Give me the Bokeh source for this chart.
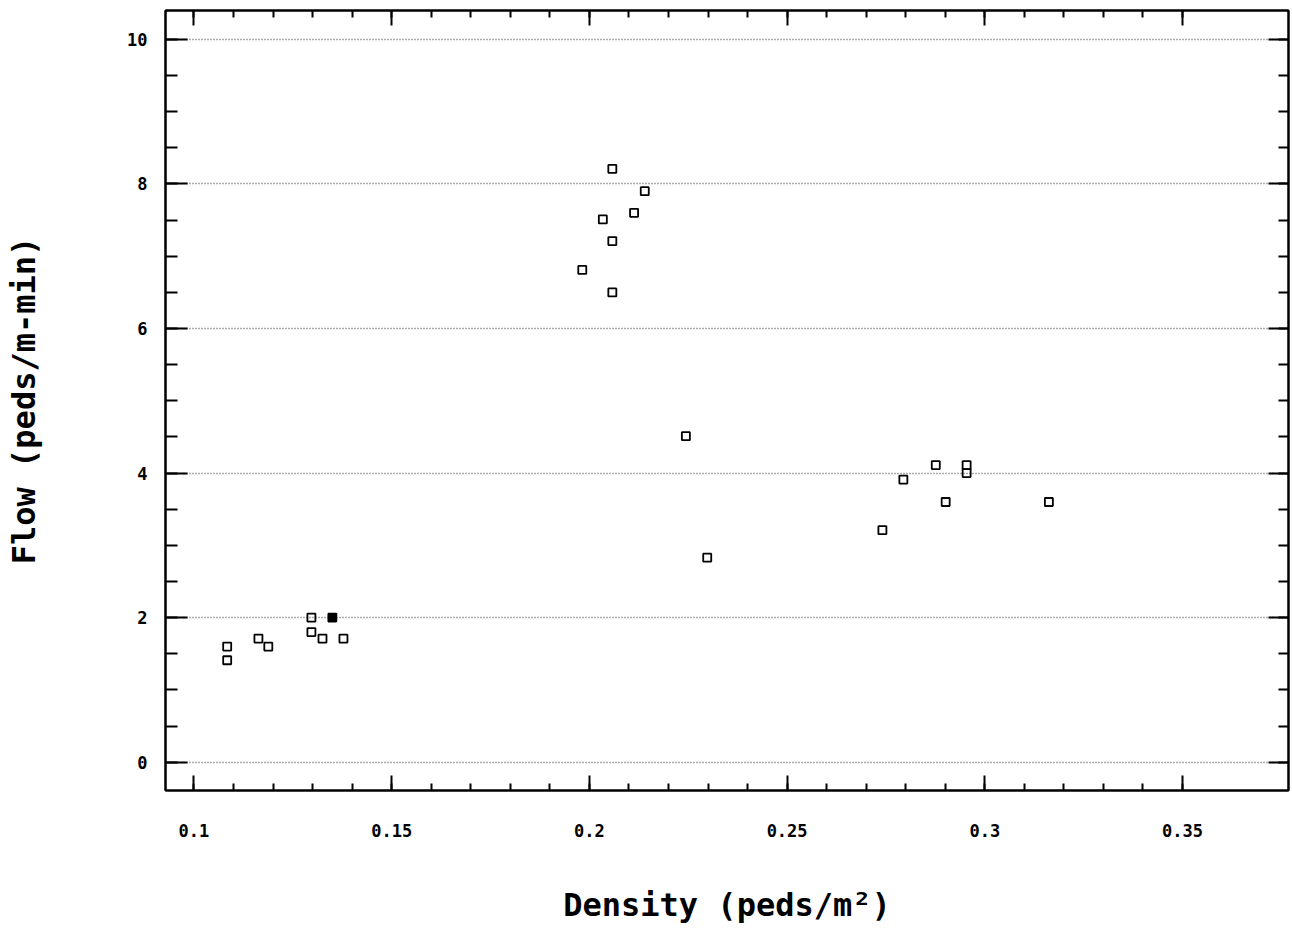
from bokeh.plotting import figure
from bokeh.models import LinearAxis, FixedTicker, Range1d
from bokeh.embed import file_html
from bokeh.resources import INLINE

# ---- data ----
density = [0.1084, 0.1084, 0.1163, 0.1188, 0.1297, 0.1297, 0.1325, 0.1378,
           0.2058, 0.2140, 0.2113, 0.2034, 0.2058, 0.1982, 0.2058,
           0.2244, 0.2298,
           0.2876, 0.2954, 0.2954, 0.2794, 0.2901, 0.3162, 0.2741]
flow = [1.60, 1.41, 1.71, 1.60, 2.00, 1.80, 1.71, 1.71,
        8.21, 7.90, 7.60, 7.51, 7.21, 6.81, 6.50,
        4.51, 2.83,
        4.11, 4.11, 4.00, 3.91, 3.60, 3.60, 3.21]
# overlapping observations drawn as a solid mark
density_overlap = [0.1350]
flow_overlap = [2.00]

x_ticks = [0.1, 0.15, 0.2, 0.25, 0.3, 0.35]
x_tick_labels = ["0.1", "0.15", "0.2", "0.25", "0.3", "0.35"]
x_minor = [round(0.1 + 0.01 * i, 2) for i in range(26)]
y_ticks = [0, 2, 4, 6, 8, 10]
y_tick_labels = ["0", "2", "4", "6", "8", "10"]
y_minor = [0.5 * i for i in range(21)]

x_title = "Density (peds/m²)"
y_title = "Flow (peds/m-min)"

FONT = "DejaVu Sans Mono"

p = figure(width=1290, height=928, output_backend="svg", toolbar_location=None,
           x_range=Range1d(0.0928, 0.3768), y_range=Range1d(-0.392, 10.40),
           min_border_left=165, min_border_right=2, min_border_top=10,
           min_border_bottom=138)

p.outline_line_color = "black"
p.outline_line_width = 2
p.background_fill_color = "white"
p.border_fill_color = "white"

xt = FixedTicker(ticks=x_ticks, minor_ticks=x_minor)
yt = FixedTicker(ticks=y_ticks, minor_ticks=y_minor)

# grids
p.xgrid.visible = False
p.ygrid.ticker = yt
p.ygrid.grid_line_color = "#5a5a5a"
p.ygrid.grid_line_dash = "1 2"
p.ygrid.grid_line_width = 1.5

def style(ax, length_major, length_minor):
    ax.axis_line_color = "black"
    ax.axis_line_width = 2
    ax.major_tick_line_color = "black"
    ax.major_tick_line_width = 2
    ax.minor_tick_line_color = "black"
    ax.minor_tick_line_width = 2
    ax.major_tick_in = length_major
    ax.major_tick_out = 0
    ax.minor_tick_in = length_minor
    ax.minor_tick_out = 0
    ax.major_label_text_font = FONT
    ax.major_label_text_font_style = "bold"
    ax.major_label_text_color = "black"
    ax.axis_label_text_font = FONT
    ax.axis_label_text_font_style = "bold"
    ax.axis_label_text_color = "black"

# bottom axis
xa = p.xaxis[0]
xa.ticker = xt
xa.major_label_overrides = {t: l for t, l in zip(x_ticks, x_tick_labels)}
style(xa, 15, 7)
xa.major_label_text_font_size = "17px"
xa.major_label_standoff = 33
xa.axis_label = x_title
xa.axis_label_text_font_size = "32px"
xa.axis_label_standoff = 46

# left axis
ya = p.yaxis[0]
ya.ticker = yt
ya.major_label_overrides = {t: l for t, l in zip(y_ticks, y_tick_labels)}
style(ya, 22, 12)
ya.major_label_text_font_size = "17px"
ya.major_label_standoff = 18
ya.axis_label = y_title
ya.axis_label_text_font_size = "32px"
ya.axis_label_standoff = 81

# top and right axes: ticks only (no tick labels)
top = LinearAxis(ticker=FixedTicker(ticks=x_ticks, minor_ticks=x_minor))
style(top, 15, 7)
top.major_label_overrides = {t: "" for t in x_ticks}
top.major_label_standoff = 0
p.add_layout(top, "above")
right = LinearAxis(ticker=FixedTicker(ticks=y_ticks, minor_ticks=y_minor))
style(right, 20, 10)
right.major_label_overrides = {t: "" for t in y_ticks}
right.major_label_standoff = 0
p.add_layout(right, "right")

p.scatter(density, flow, marker="square", size=8, fill_color=None,
          line_color="black", line_width=1.8)
p.scatter(density_overlap, flow_overlap, marker="square", size=8,
          fill_color="black", line_color="black", line_width=1.8)

open("out.html", "w").write(file_html(p, INLINE))
